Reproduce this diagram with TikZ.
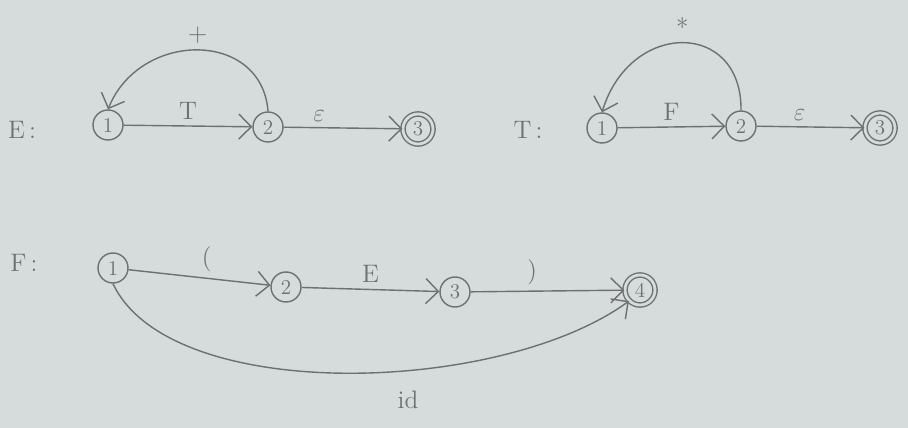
\documentclass[tikz,border=0pt]{standalone}
\usepackage{amsmath,amssymb}
\usepackage{xcolor}
\usepackage{tikz}
\usetikzlibrary{arrows.meta, positioning}

\definecolor{paper}{RGB}{214,219,220}
\definecolor{pencil}{RGB}{110,112,114}

\begin{document}
\begin{tikzpicture}[
  x=0.02cm, y=-0.02cm,
  every node/.style={text=pencil, font=\Large},
  state/.style={draw=pencil, circle, thick, minimum size=0.6cm, inner sep=0pt, font=\large},
  accept/.style={state, double=paper, double distance=1.6pt},
  arr/.style={-{Straight Barb[length=2.5mm]}, thick, draw=pencil}
]
\fill[paper] (0,0) rectangle (908,428);
\useasboundingbox (0,0) rectangle (908,428);

% E
\node (lblE) at (22,130) {E\,:};
\node[state] (e1) at (108,125) {1};
\node[state] (e2) at (268,127) {2};
\node[accept] (e3) at (418,129) {3};
\draw[arr] (e1) -- node[above] {T} (e2);
\draw[arr] (e2) -- node[above, pos=0.3] {$\varepsilon$} (e3);
\draw[arr] (e2.north) .. controls (262,30) and (140,30) .. node[above] {+} (e1.north);

% T
\node (lblT) at (528,130) {T\,:};
\node[state] (t1) at (602,128) {1};
\node[state] (t2) at (741,126) {2};
\node[accept] (t3) at (880,128) {3};
\draw[arr] (t1) -- node[above] {F} (t2);
\draw[arr] (t2) -- node[above, pos=0.4] {$\varepsilon$} (t3);
\draw[arr] (t2.north) .. controls (742,20) and (630,20) .. node[above] {*} (t1.north);

% F
\node (lblF) at (24,263) {F\,:};
\node[state] (f1) at (113,268) {1};
\node[state] (f2) at (286,287) {2};
\node[state] (f3) at (455,292) {3};
\node[accept] (f4) at (640,290) {4};
\draw[arr] (f1) -- node[above, pos=0.55] {(} (f2);
\draw[arr] (f2) -- node[above] {E} (f3);
\draw[arr] (f3) -- node[above, pos=0.4] {)} (f4);
\draw[arr] (f1.south) .. controls (170,405) and (500,395) .. node[below=8pt, pos=0.6] {id} (f4.south west);
\end{tikzpicture}
\end{document}
